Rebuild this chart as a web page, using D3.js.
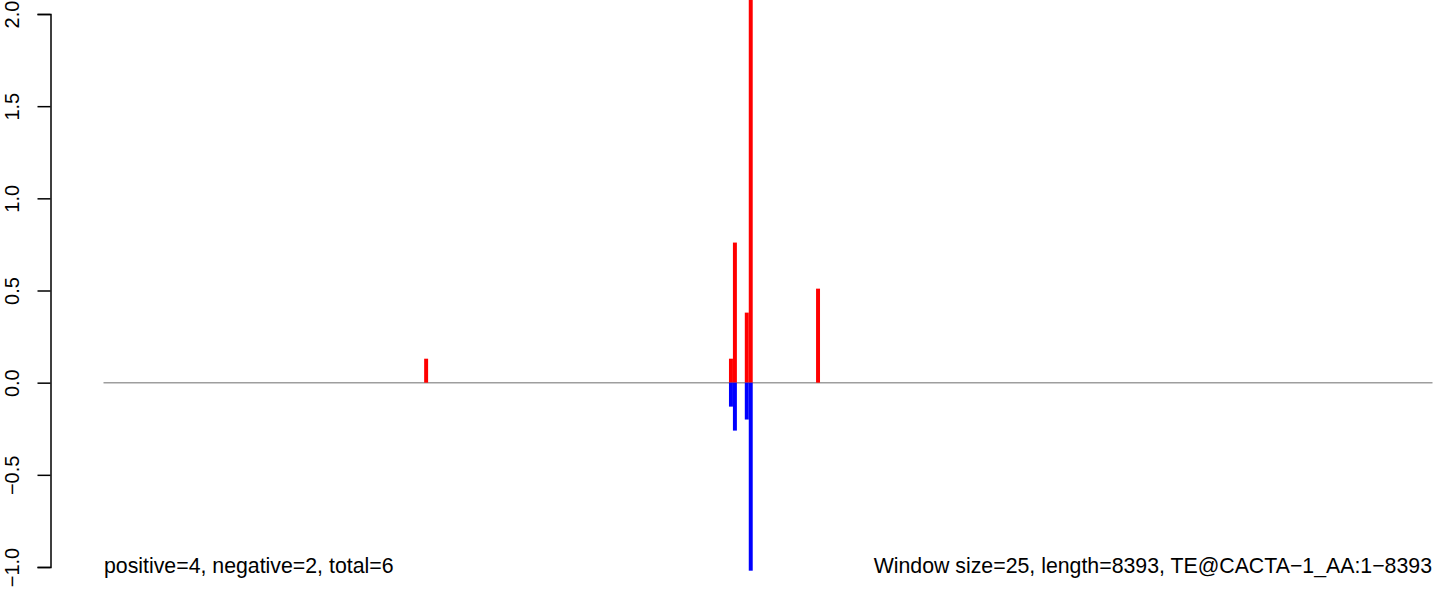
<!DOCTYPE html>
<html>
<head>
<meta charset="utf-8">
<script src="https://cdn.jsdelivr.net/npm/d3@7"></script>
<style>
html,body{margin:0;padding:0;background:#fff;}
svg{display:block;font-family:"Liberation Sans",Arial,Helvetica,sans-serif;}
</style>
</head>
<body>
<svg id="chart" width="1444" height="592"></svg>
<script>
// Data (window start positions along the TE, window size 25)
const windowSize = 25;
const seqLength = 8393;
const positions = [2025, 3950, 3975, 4050, 4075, 4500];
const positiveValues = [0.13, 0.13, 0.76, 0.38, 2.1, 0.51];
const negativeValues = [0, -0.13, -0.26, -0.20, -1.02, 0];
const yTicks = [-1.0, -0.5, 0.0, 0.5, 1.0, 1.5, 2.0];
const leftNote = "positive=4, negative=2, total=6";
const rightNote = "Window size=25, length=8393, TE@CACTA\u22121_AA:1\u22128393";

const svg = d3.select("#chart");
const x = d3.scaleLinear().domain([0, seqLength]).range([103.5, 1432.5]);
const y = d3.scaleLinear().domain([-1, 2]).range([567, 14]);

// zero line
svg.append("line")
  .attr("x1", x(0)).attr("x2", x(seqLength))
  .attr("y1", y(0)).attr("y2", y(0))
  .attr("stroke", "#9e9e9e").attr("stroke-width", 1.5);

const bw = x(windowSize) - x(0);
// positive bars
svg.append("g").selectAll("rect").data(positions.map((p,i)=>({p, v: positiveValues[i]})).filter(d=>d.v>0))
  .join("rect")
  .attr("x", d => x(d.p)).attr("width", bw)
  .attr("y", d => y(d.v)).attr("height", d => y(0) - y(d.v))
  .attr("fill", "#ff0000");
// negative bars
svg.append("g").selectAll("rect").data(positions.map((p,i)=>({p, v: negativeValues[i]})).filter(d=>d.v<0))
  .join("rect")
  .attr("x", d => x(d.p)).attr("width", bw)
  .attr("y", y(0)).attr("height", d => y(d.v) - y(0))
  .attr("fill", "#0000ff");

// y axis
const axisFmt = d => (d < 0 ? "\u2212" : "") + Math.abs(d).toFixed(1);
const ax = svg.append("g").attr("transform", "translate(50.5,0)")
  .call(d3.axisLeft(y).tickValues(yTicks).tickSize(13).tickPadding(0).tickFormat(axisFmt));
ax.select(".domain").attr("stroke", "#000").attr("stroke-width", 1.5);
ax.selectAll(".tick line").attr("stroke", "#000").attr("stroke-width", 1.5);
ax.selectAll(".tick text")
  .attr("font-size", 20).attr("font-family", "Liberation Sans, Arial, sans-serif")
  .attr("fill", "#000")
  .attr("text-anchor", "middle")
  .attr("x", 0).attr("dy", 0)
  .attr("transform", "translate(-32,0) rotate(-90)");

// notes
svg.append("text").attr("x", x(0) + 0.5).attr("y", 573)
  .attr("font-size", 21.3).attr("fill", "#000").text(leftNote);
svg.append("text").attr("x", x(seqLength) - 0.5).attr("y", 573)
  .attr("font-size", 21.3).attr("fill", "#000").attr("text-anchor", "end").text(rightNote);
</script>
</body>
</html>
